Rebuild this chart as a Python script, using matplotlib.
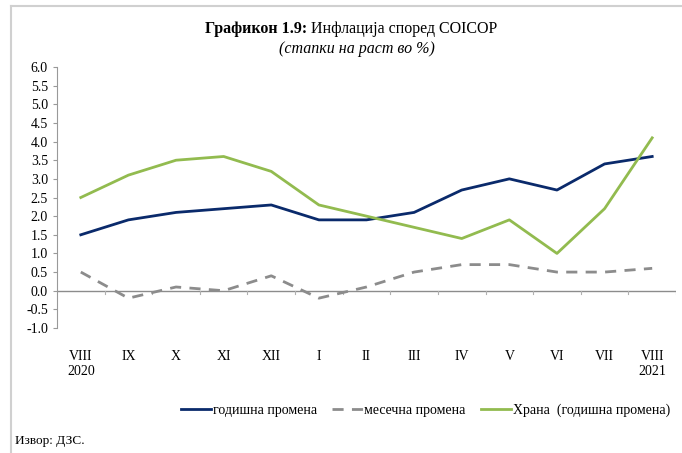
import numpy as np
import matplotlib
matplotlib.use("Agg")
import matplotlib.pyplot as plt
from matplotlib.lines import Line2D

# Data
months = ["VIII\n2020", "IX", "X", "XI", "XII", "I", "II", "III", "IV", "V", "VI", "VII", "VIII\n2021"]
godisna = [1.5, 1.9, 2.1, 2.2, 2.3, 1.9, 1.9, 2.1, 2.7, 3.0, 2.7, 3.4, 3.6]
mesecna = [0.5, -0.2, 0.1, 0.0, 0.4, -0.2, 0.1, 0.5, 0.7, 0.7, 0.5, 0.5, 0.6]
hrana = [2.5, 3.1, 3.5, 3.6, 3.2, 2.3, 2.0, 1.7, 1.4, 1.9, 1.0, 2.2, 4.1]
yticks = np.arange(-1.0, 6.01, 0.5)

plt.rcParams["font.family"] = "Liberation Serif"

fig = plt.figure(figsize=(6.82, 4.53), dpi=100)
ax = fig.add_axes([57/682, 1-328/453, (676-57)/682, (328-67)/453])

x = np.arange(len(months))
ax.plot(x, godisna, color="#0a2a6b", linewidth=2, label="годишна промена")
ax.plot(x, mesecna, color="#8c8c8c", linewidth=2, linestyle=(0, (4, 3)), label="месечна промена")
ax.plot(x, hrana, color="#92bb4f", linewidth=2, label="Храна  (годишна промена)")

ax.set_xlim(-0.5, len(months) - 0.5)
ax.set_ylim(-1.0, 6.0)
ax.set_yticks(yticks)
ax.set_yticklabels([f"{v:.1f}" for v in yticks], fontsize=10)
ax.set_xticks(x)
ax.set_xticklabels(months, fontsize=10)
ax.tick_params(axis="x", length=0, pad=16)
ax.tick_params(axis="y", length=3, color="#999999", direction="out")

for s in ["top", "right", "bottom"]:
    ax.spines[s].set_visible(False)
ax.spines["left"].set_color("#999999")

# zero line with minor ticks between categories
ax.axhline(0, color="#8c8c8c", linewidth=1, zorder=1)
for b in np.arange(0.5, len(months) - 0.5, 1.0):
    ax.plot([b, b], [0, -0.08], color="#b0b0b0", linewidth=0.8, zorder=1)
ax.plot([len(months) - 0.5] * 2, [0, -0.08], color="#b0b0b0", linewidth=0.8, zorder=1)

# title: bold part + regular part
t1 = fig.text(205/682, 0.935, "Графикон 1.9:", ha="left", va="center", fontsize=11.5, fontweight="bold")
fig.canvas.draw()
bb = t1.get_window_extent()
fig.text(bb.x1 / fig.bbox.width, 0.935, " Инфлација според COICOP", ha="left", va="center", fontsize=11.5)
fig.text(357/682, 0.892, "(стапки на раст во %)", ha="center", va="center", fontsize=11.5, style="italic")

handles = [
    Line2D([], [], color="#0a2a6b", linewidth=2),
    Line2D([], [], color="#8c8c8c", linewidth=2, linestyle=(0, (4, 3))),
    Line2D([], [], color="#92bb4f", linewidth=2),
]
fig.legend(handles, ["годишна промена", "месечна промена", "Храна  (годишна промена)"],
           loc="center right", bbox_to_anchor=(670/682, 1-410/453), ncol=3, frameon=False,
           fontsize=10, handlelength=2.2, handletextpad=0.1, columnspacing=1.1,
           borderpad=0, borderaxespad=0)

fig.text(15/682, 1-441/453, "Извор: ДЗС.", fontsize=9.5, va="center")

# frame lines at top and left
fig.add_artist(Line2D([11/682, 1], [1-6/453, 1-6/453], color="#d0d0d0", linewidth=1.5))
fig.add_artist(Line2D([11/682, 11/682], [0, 1-6/453], color="#d0d0d0", linewidth=1.5))

fig.savefig("out.png", dpi=100)
